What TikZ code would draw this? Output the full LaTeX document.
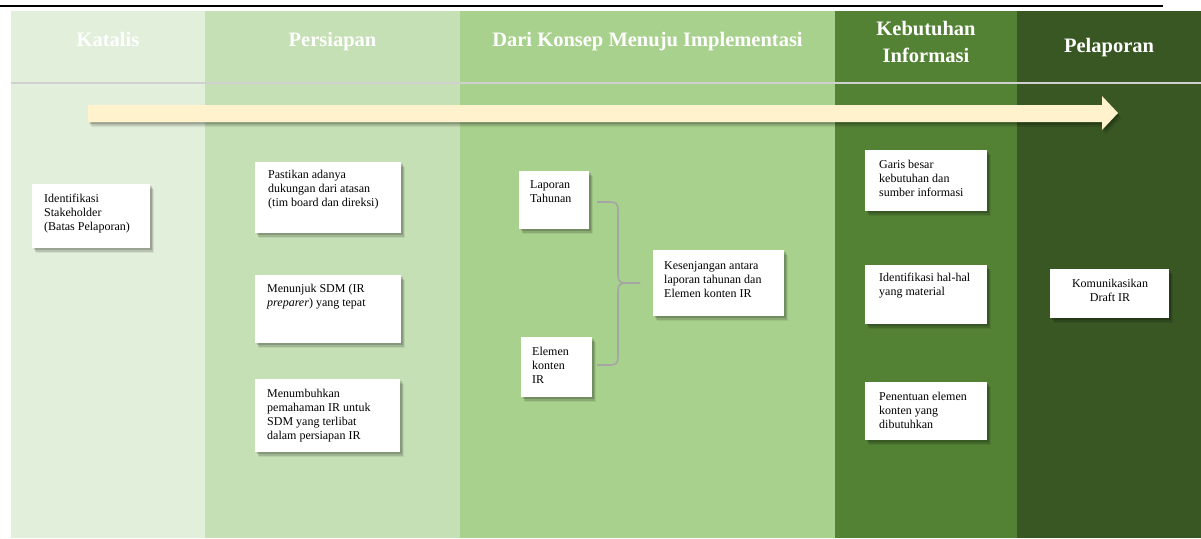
\documentclass[tikz,border=0pt]{standalone}
\usepackage{fontspec}
\setmainfont{Liberation Serif}
\usetikzlibrary{shadows}
\definecolor{colA}{HTML}{E2EFDA}
\definecolor{colB}{HTML}{C5E0B4}
\definecolor{colC}{HTML}{A9D18E}
\definecolor{colD}{HTML}{548235}
\definecolor{colE}{HTML}{385723}
\definecolor{cream}{HTML}{FFF2CC}
\definecolor{rulegray}{HTML}{D0D0D0}
\definecolor{bracegray}{HTML}{A5A5A5}
\tikzset{
  hdr/.style={font=\fontsize{20.5}{27}\selectfont\bfseries, text=white, inner sep=0pt, align=center},
  softshadow/.style={
    drop shadow={shadow xshift=1.5pt, shadow yshift=-2pt, opacity=0.16, fill=black},
    drop shadow={shadow xshift=2.5pt, shadow yshift=-3.5pt, opacity=0.12, fill=black},
    drop shadow={shadow xshift=3.5pt, shadow yshift=-5pt, opacity=0.07, fill=black}},
  wbox/.style={fill=white, draw=none, anchor=north west, inner sep=0pt, softshadow},
  txt/.style={font=\fontsize{12}{14}\selectfont, anchor=north west, inner sep=0pt, align=left, text=black},
  ctxt/.style={font=\fontsize{12}{14}\selectfont, anchor=north, inner sep=0pt, align=center, text=black},
  bracestyle/.style={draw=bracegray, line width=1.6pt}
}
\begin{document}
\begin{tikzpicture}[x=1pt,y=-1pt]
\useasboundingbox (0,0) rectangle (1201,538);
% top rule
\draw[black, line width=2.8pt] (0,6) -- (1163,6);
% columns
\fill[colA] (11,11) rectangle (205,538);
\fill[colB] (205,11) rectangle (460,538);
\fill[colC] (460,11) rectangle (835,538);
\fill[colD] (835,11) rectangle (1017,538);
\fill[colE] (1017,11) rectangle (1201,538);
% header separator
\draw[rulegray, line width=1.5pt] (11,83) -- (1201,83);
% headers
\node[hdr, anchor=base] (hA) at (108,46.5) {Katalis};
\node[hdr, anchor=base] (hB) at (332.5,46.5) {Persiapan};
\node[hdr, anchor=base] (hC) at (647.5,46.5) {Dari Konsep Menuju Implementasi};
\node[hdr, anchor=north] (hD) at (926,16.1) {\strut Kebutuhan\\Informasi};
\node[hdr, anchor=base] (hE) at (1109,52) {Pelaporan};
% timeline arrow
\path[fill=cream, softshadow]
  (88,105) -- (1102,105) -- (1102,96) -- (1118,113) -- (1102,130) -- (1102,122) -- (88,122) -- cycle;
% boxes
\node[wbox, minimum width=118pt, minimum height=64pt] (b1) at (32,184) {};
\node[txt] (t1) at (44,192.7) {\strut Identifikasi\\Stakeholder\\(Batas Pelaporan)};

\node[wbox, minimum width=146pt, minimum height=71pt] (b2) at (255,162) {};
\node[txt] (t2) at (268,168.7) {\strut Pastikan adanya\\dukungan dari atasan\\(tim board dan direksi)};

\node[wbox, minimum width=146pt, minimum height=68pt] (b3) at (255,275) {};
\node[txt] (t3) at (267,282.7) {\strut Menunjuk SDM (IR\\\textit{preparer}) yang tepat};

\node[wbox, minimum width=145pt, minimum height=73pt] (b4) at (255,379) {};
\node[txt] (t4) at (267,387.7) {\strut Menumbuhkan\\pemahaman IR untuk\\SDM yang terlibat\\dalam persiapan IR};

\node[wbox, minimum width=70pt, minimum height=58pt] (b5) at (519,171) {};
\node[txt] (t5) at (530,178.7) {\strut Laporan\\Tahunan};

\node[wbox, minimum width=71pt, minimum height=60pt] (b6) at (521,337) {};
\node[txt] (t6) at (532,345.7) {\strut Elemen\\konten\\IR};

\node[wbox, minimum width=131pt, minimum height=66pt] (b7) at (653,250) {};
\node[txt] (t7) at (664,259.7) {\strut Kesenjangan antara\\laporan tahunan dan\\Elemen konten IR};

\node[wbox, minimum width=122pt, minimum height=61pt] (b8) at (865,150) {};
\node[txt] (t8) at (879,158.7) {\strut Garis besar\\kebutuhan dan\\sumber informasi};

\node[wbox, minimum width=122pt, minimum height=59pt] (b9) at (865,265) {};
\node[txt] (t9) at (879,271.7) {\strut Identifikasi hal-hal\\yang material};

\node[wbox, minimum width=122pt, minimum height=58pt] (b10) at (865,382) {};
\node[txt] (t10) at (879,390.7) {\strut Penentuan elemen\\konten yang\\dibutuhkan};

\node[wbox, minimum width=119pt, minimum height=49pt] (b11) at (1050,269) {};
\node[ctxt] (t11) at (1110,277.7) {\strut Komunikasikan\\Draft IR};

% brace
\coordinate (brTop) at (597,202);
\coordinate (brBot) at (597,365);
\coordinate (brTip) at (640,283);
\draw[bracestyle] (brTop) -- (610,202) .. controls (616,202) and (618,204) .. (618,210)
  -- (618,275) .. controls (618,281) and (620,283) .. (626,283) -- (brTip);
\draw[bracestyle] (brTip) -- (626,283) .. controls (620,283) and (618,285) .. (618,291)
  -- (618,357) .. controls (618,363) and (616,365) .. (610,365) -- (brBot);
\end{tikzpicture}
\end{document}
